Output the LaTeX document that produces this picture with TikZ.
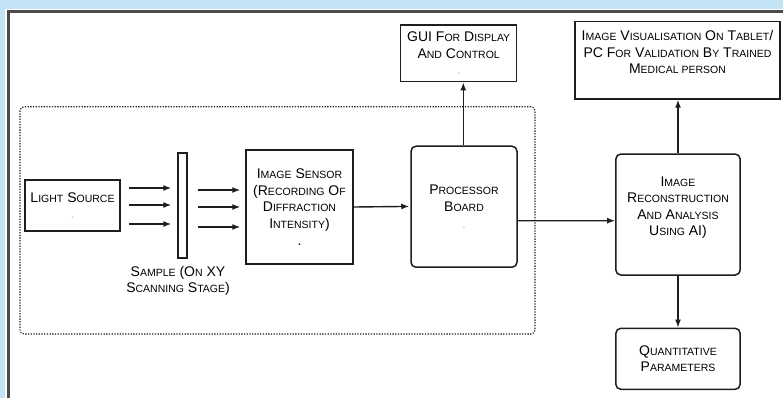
\documentclass[tikz,border=0pt]{standalone}
\usepackage{fontspec}
\setmainfont{Liberation Sans}
\usetikzlibrary{arrows.meta}
\definecolor{bgblue}{RGB}{194,228,244}
\definecolor{ink}{RGB}{30,30,30}
\definecolor{frameline}{RGB}{75,75,75}
\newcommand\sm[1]{{\fontsize{10.5bp}{16.6bp}\selectfont #1}}
\newcommand\faint[1]{{\color{gray!45}#1}}
\begin{document}
\begin{tikzpicture}[x=1bp,y=-1bp,
  box/.style={draw=ink, line width=1.5bp, inner sep=0pt, align=center, text=black,
    font=\fontsize{14bp}{16.6bp}\selectfont},
  rbox/.style={box, rounded corners=5bp},
  arr/.style={draw=ink, line width=1.4bp, -{Latex[length=8bp,width=6bp]}},
  lbl/.style={inner sep=0pt, align=center, text=black, font=\fontsize{14bp}{16.6bp}\selectfont}
]
\useasboundingbox (0,0) rectangle (783,398);
\fill[bgblue] (0,0) rectangle (783,398);
\fill[white] (5,9) rectangle (783,398);
\draw[line width=2.5bp, frameline] (8.7,398) -- (8.7,11.3) -- (783,11.3);

% dotted system container
\node[draw=ink, line width=1.1bp, dash pattern=on 1.3bp off 1.4bp, rounded corners=4bp,
  minimum width=515bp, minimum height=227.3bp, inner sep=0pt] (sys) at (277.5,220.35) {};

% boxes
\node[box, minimum width=95bp, minimum height=51bp] (light) at (72.5,205.5)
  {L\sm{IGHT} S\sm{OURCE}\\\faint{.}};
\node[draw=ink, line width=1.3bp, inner sep=0pt, minimum width=9bp, minimum height=105bp]
  (sample) at (182.5,205.5) {};
\node[lbl] (samplelbl) at (178,281)
  {S\sm{AMPLE} (O\sm{N} XY\\S\sm{CANNING} S\sm{TAGE})};
\node[box, minimum width=107bp, minimum height=114bp] (sensor) at (299.5,207)
  {I\sm{MAGE} S\sm{ENSOR}\\(R\sm{ECORDING} O\sm{F}\\D\sm{IFFRACTION}\\I\sm{NTENSITY})\\.};
\node[rbox, minimum width=106bp, minimum height=121bp] (proc) at (464,206.7)
  {P\sm{ROCESSOR}\\B\sm{OARD}\\\faint{.}};
\node[box, minimum width=116bp, minimum height=56.7bp] (gui) at (458.7,53.3)
  {GUI F\sm{OR} D\sm{ISPLAY}\\A\sm{ND} C\sm{ONTROL}\\\faint{.}};
\node[box, minimum width=205bp, minimum height=77.3bp] (vis) at (677.5,60.3)
  {I\sm{MAGE} V\sm{ISUALISATION} O\sm{N} T\sm{ABLET}/\\PC F\sm{OR} V\sm{ALIDATION} B\sm{Y} T\sm{RAINED}\\M\sm{EDICAL PERSON}\\\mbox{}};
\node[rbox, minimum width=124.3bp, minimum height=121bp] (recon) at (678,214.5)
  {I\sm{MAGE}\\R\sm{ECONSTRUCTION}\\A\sm{ND} A\sm{NALYSIS}\\U\sm{SING} AI)\\\mbox{}};
\node[rbox, minimum width=124.3bp, minimum height=61bp] (quant) at (678,358.8)
  {Q\sm{UANTITATIVE}\\P\sm{ARAMETERS}};

% light rays
\foreach \s in {17.5,0.5,-18.5}
  \draw[arr, shorten <=8bp, shorten >=6bp] ([yshift=\s bp]light.east) -- ([yshift=\s bp]sample.west);
\draw[arr, shorten <=10bp, shorten >=5bp] ([yshift=15.5bp]sample.east) -- ([yshift=17bp]sensor.west);
\draw[arr, shorten <=10bp, shorten >=5bp] ([yshift=-1.5bp]sample.east) -- (sensor.west);
\draw[arr, shorten <=10bp, shorten >=5bp] ([yshift=-21.5bp]sample.east) -- ([yshift=-20bp]sensor.west);

% other connectors
\draw[arr, shorten >=1bp] (sensor.east) -- ([yshift=0.3bp]proc.west);
\draw[arr] ([xshift=-0.7bp]proc.north) -- ([xshift=-0.7bp]proc.north |- gui.south);
\draw[arr] ([yshift=-14bp]proc.east) -- ([yshift=-6.2bp]recon.west);
\draw[arr] (recon.north) -- (recon.north |- vis.south);
\draw[arr] (recon.south) -- (quant.north);
\end{tikzpicture}
\end{document}
